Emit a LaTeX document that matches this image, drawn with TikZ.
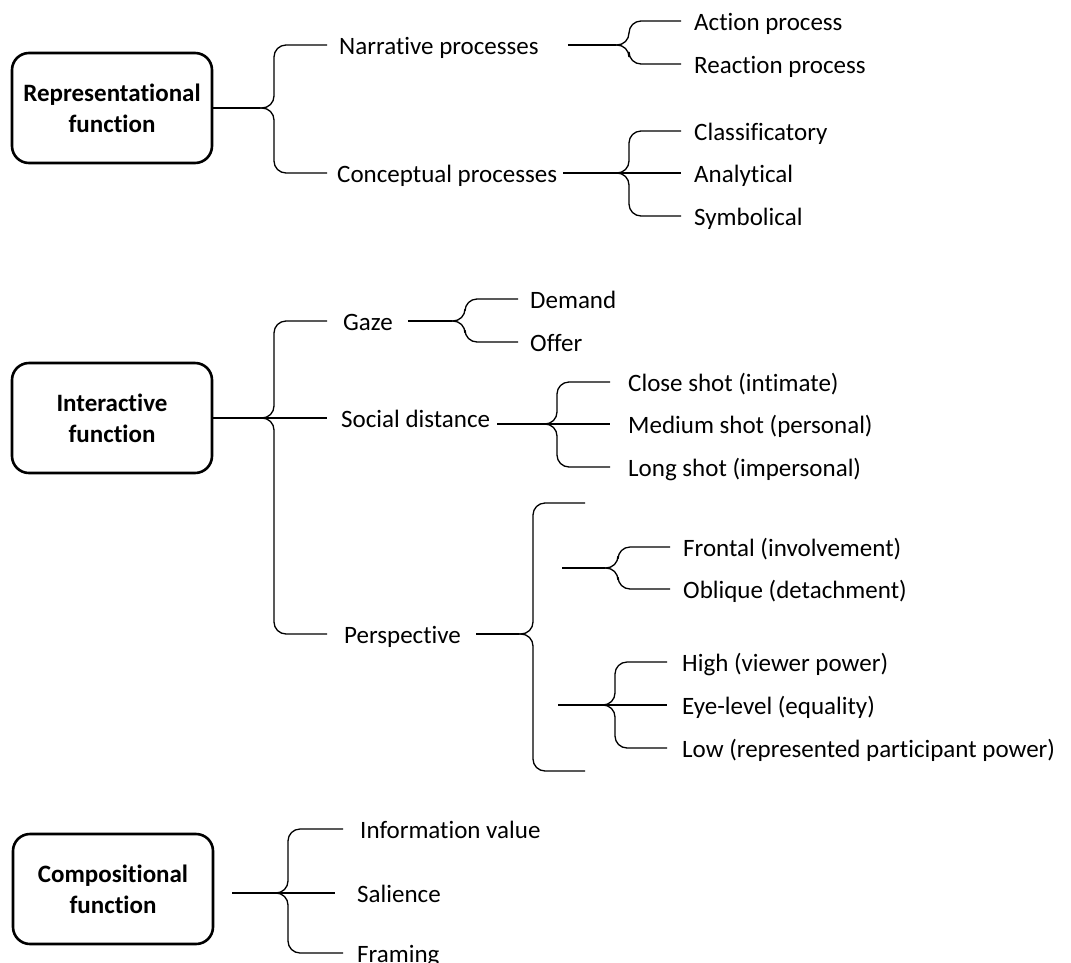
\documentclass[tikz,border=0pt]{standalone}
\usepackage{fontspec}
\setmainfont{Carlito}[Ligatures={NoCommon}]
\begin{document}
\begin{tikzpicture}[x=1pt,y=-1pt,
  box/.style={draw,line width=2.6pt,rounded corners=17pt,minimum width=200pt,minimum height=110pt,align=center,inner sep=0pt,font=\fontsize{25}{31}\selectfont\bfseries},
  lbl/.style={anchor=west,inner sep=0pt,text height=20pt,text depth=2pt,font=\fontsize{25}{30}\selectfont},
  br/.style={line width=1.3pt,rounded corners=12pt},
  stem/.style={line width=1.4pt},
  tstem/.style={line width=2.4pt}]
\useasboundingbox (0,0) rectangle (1071,962);
\clip (0,0) rectangle (1071,962);
% ---------- Representational ----------
\node[box] (R) at (112,108) {Representational\\function};
\node[lbl] (NP) at (339,45) {Narrative processes};
\node[lbl] (CP) at (337,173) {Conceptual processes};
\node[lbl] (AP) at (694,21) {Action process};
\node[lbl] (RP) at (694,64) {Reaction process};
\node[lbl] (CL) at (694,131) {Classificatory};
\node[lbl] (AN) at (694,173) {Analytical};
\node[lbl] (SY) at (694,216) {Symbolical};
\coordinate (t1) at (260,108); \coordinate (v1) at (274,108);
\draw[stem] (R.east) -- (t1);
\draw[br] ([xshift=-12pt]NP.west) -- (NP.west -| v1) -- (v1) -- (t1);
\draw[br] ([xshift=-10pt]CP.west) -- (CP.west -| v1) -- (v1) -- (t1);
\coordinate (t2) at (616,45); \coordinate (v2) at (629,45);
\draw[tstem] ([xshift=29pt]NP.east) -- (t2);
\draw[br] ([xshift=-13pt]AP.west) -- (AP.west -| v2) -- (v2) -- (t2);
\draw[br] ([xshift=-13pt]RP.west) -- (RP.west -| v2) -- (v2) -- (t2);
\coordinate (t3) at (616,173); \coordinate (v3) at (629,173);
\draw[tstem] ([xshift=6pt]CP.east) -- (t3);
\draw[br] ([xshift=-13pt]CL.west) -- (CL.west -| v3) -- (v3) -- (t3);
\draw[br] ([xshift=-13pt]SY.west) -- (SY.west -| v3) -- (v3) -- (t3);
\draw[stem] (t3) -- ([xshift=-13pt]AN.west);
% ---------- Interactive ----------
\node[box] (I) at (112,418) {Interactive\\function};
\node[lbl] (GZ) at (343,321) {Gaze};
\node[lbl] (SD) at (341,418) {Social distance};
\node[lbl] (PE) at (344,634) {Perspective};
\node[lbl] (DE) at (530,299) {Demand};
\node[lbl] (OF) at (530,342) {Offer};
\node[lbl] (CS) at (628,382) {Close shot (intimate)};
\node[lbl] (MS) at (628,424) {Medium shot (personal)};
\node[lbl] (LS) at (628,467) {Long shot (impersonal)};
\node[lbl] (FR) at (683,547) {Frontal (involvement)};
\node[lbl] (OB) at (683,589) {Oblique (detachment)};
\node[lbl] (HI) at (682,662) {High (viewer power)};
\node[lbl] (EY) at (682,705) {Eye-level (equality)};
\node[lbl] (LO) at (682,748) {Low (represented participant power)};
\coordinate (t4) at (261,418); \coordinate (v4) at (274,418);
\draw[stem] (I.east) -- (t4);
\draw[br] ([xshift=-16pt]GZ.west) -- (GZ.west -| v4) -- (v4) -- (t4);
\draw[br] ([xshift=-17pt]PE.west) -- (PE.west -| v4) -- (v4) -- (t4);
\draw[stem] (t4) -- ([xshift=-14pt]SD.west);
% Gaze
\coordinate (t5) at (452,321); \coordinate (v5) at (465,321);
\draw[tstem] ([xshift=15pt]GZ.east) -- (t5);
\draw[br] ([xshift=-12pt]DE.west) -- (DE.west -| v5) -- (v5) -- (t5);
\draw[br] ([xshift=-12pt]OF.west) -- (OF.west -| v5) -- (v5) -- (t5);
% Social distance
\coordinate (t6) at (544,424); \coordinate (v6) at (557,424);
\draw[stem] (SD.east) ++(7,6) -- (t6);
\draw[br] ([xshift=-18pt]CS.west) -- (CS.west -| v6) -- (v6) -- (t6);
\draw[br] ([xshift=-18pt]LS.west) -- (LS.west -| v6) -- (v6) -- (t6);
\draw[stem] (t6) -- ([xshift=-18pt]MS.west);
% Perspective
\coordinate (t7) at (519,634); \coordinate (v7) at (533,634);
\coordinate (p1) at (585,503); \coordinate (p2) at (585,771);
\draw[tstem] ([xshift=15pt]PE.east) -- (t7);
\draw[br] (p1) -- (p1 -| v7) -- (v7) -- (t7);
\draw[br] (p2) -- (p2 -| v7) -- (v7) -- (t7);
\coordinate (s1) at (562,568); \coordinate (t8) at (605,568); \coordinate (v8) at (618,568);
\draw[stem] (s1) -- (t8);
\draw[br] ([xshift=-13pt]FR.west) -- (FR.west -| v8) -- (v8) -- (t8);
\draw[br] ([xshift=-13pt]OB.west) -- (OB.west -| v8) -- (v8) -- (t8);
\coordinate (s2) at (558,705); \coordinate (t9) at (602,705); \coordinate (v9) at (615,705);
\draw[stem] (s2) -- (t9);
\draw[br] ([xshift=-15pt]HI.west) -- (HI.west -| v9) -- (v9) -- (t9);
\draw[br] ([xshift=-15pt]LO.west) -- (LO.west -| v9) -- (v9) -- (t9);
\draw[stem] (t9) -- ([xshift=-15pt]EY.west);
% ---------- Compositional ----------
\node[box] (C) at (113,889) {Compositional\\function};
\node[lbl] (IV) at (360,829) {Information value};
\node[lbl] (SA) at (357,893) {Salience};
\node[lbl] (FA) at (357,953) {Framing};
\coordinate (c0) at (232,893); \coordinate (t10) at (274,893); \coordinate (v10) at (288,893);
\draw[stem] (c0) -- (t10);
\draw[br] ([xshift=-17pt]IV.west) -- (IV.west -| v10) -- (v10) -- (t10);
\draw[br] ([xshift=-14pt]FA.west) -- (FA.west -| v10) -- (v10) -- (t10);
\draw[stem] (t10) -- ([xshift=-22pt]SA.west);
\end{tikzpicture}
\end{document}
